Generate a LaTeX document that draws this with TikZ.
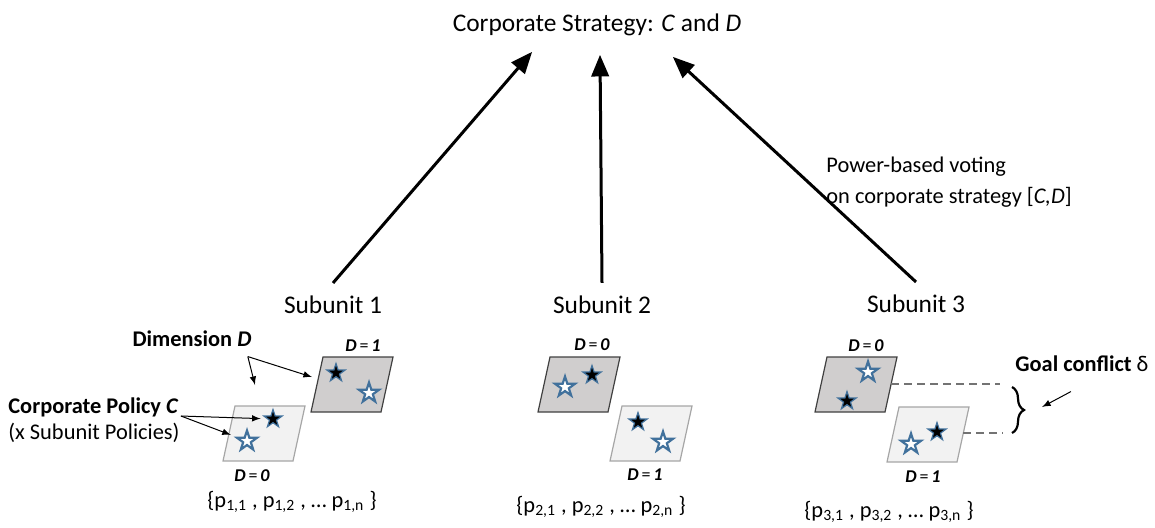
\documentclass[tikz,border=0pt]{standalone}
\usepackage{fontspec}
\setmainfont{Carlito}
\usetikzlibrary{arrows,shapes.geometric,decorations.pathreplacing}
\definecolor{starblue}{RGB}{65,113,156}
\definecolor{darkgrey}{RGB}{208,206,206}
\definecolor{lightgrey}{RGB}{242,242,242}

% slanted plane, bottom left corner at (#1,#2)
\newcommand{\plane}[3]{\draw[#3] (#1,#2) -- ++(70,0) -- ++(12,-55) -- ++(-70,0) -- cycle;}
\newcommand{\Dval}[1]{D\hspace{1.4pt}{\mdseries\upshape =}\hspace{1.4pt}#1}

\begin{document}
\begin{tikzpicture}[x=0.5pt,y=-0.5pt,
  every node/.style={inner sep=0pt,font=\fontsize{11.2}{13.5}\selectfont},
  big node/.style={font=\fontsize{12.7}{15}\selectfont},
  bold node/.style={font=\fontsize{11.2}{13.5}\selectfont\bfseries},
  val node/.style={font=\fontsize{9}{10.8}\selectfont\bfseries\itshape},
  full star/.style={star,star points=5,star point ratio=2.6,minimum size=9.5pt,fill=black,draw=starblue,line width=0.6pt},
  open star/.style={full star,minimum size=10.5pt,fill=white,line width=1.1pt},
  dark plane/.style={fill=darkgrey,draw=black!75,line width=0.6pt},
  light plane/.style={fill=lightgrey,draw=black!35,line width=0.6pt},
  big arrow/.style={-triangle 45,line width=1.5pt},
  thin arrow/.style={-latex,line width=0.5pt},
  gap line/.style={draw=black!55,line width=0.7pt,dash pattern=on 4pt off 2.5pt}]
  \useasboundingbox (0,0) rectangle (1155,527);

  % strategy and subunits
  \node[big node,anchor=base] (cs) at (597,31) {Corporate Strategy: \textit{C} and \textit{D}};
  \node[big node,anchor=base] (s1) at (333,313) {Subunit 1};
  \node[big node,anchor=base] (s2) at (602,313) {Subunit 2};
  \node[big node,anchor=base] (s3) at (916,312) {Subunit 3};
  \coordinate (t1) at (532,52);
  \coordinate (t2) at (600,55);
  \coordinate (t3) at (673,57);
  \draw[big arrow] ([yshift=6pt]s1.north) -- (t1);
  \draw[big arrow] ([yshift=6pt]s2.north) -- (t2);
  \draw[big arrow] ([yshift=6pt]s3.north) -- (t3);
  \node[anchor=base west] (v1) at (826,172) {Power-based voting};
  \node[anchor=base west] (v2) at (826,203) {on corporate strategy [\textit{C,D}]};

  % subunit 1
  \plane{311}{412}{dark plane}
  \plane{223}{461}{light plane}
  \node[full star] (f11) at (336,373) {};
  \node[open star] (o11) at (369,393) {};
  \node[full star] (f10) at (273,419) {};
  \node[open star] (o10) at (247,441) {};
  \node[val node,anchor=base] (d11) at (363,351) {\Dval{1}};
  \node[val node,anchor=base] (d10) at (252,481) {\Dval{0}};
  \node[anchor=base] (p1) at (292,507) {\{p\textsubscript{1,1} , p\textsubscript{1,2} , … p\textsubscript{1,n} \}};

  \node[bold node,anchor=base] (dim) at (192,346) {Dimension \textit{D}};
  \coordinate (da) at (255,385);
  \coordinate (db) at (312,377);
  \draw[thin arrow] ([xshift=-2pt,yshift=-5pt]dim.south east) -- (da);
  \draw[thin arrow] ([xshift=-2pt,yshift=-5pt]dim.south east) -- (db);
  \node[bold node,anchor=base west] (pol) at (8,413) {Corporate Policy \textit{C}};
  \node[anchor=base west] (polx) at (8,439) {(x Subunit Policies)};
  \draw[thin arrow,shorten >=3pt] ([xshift=1pt,yshift=-1.5pt]pol.base east) -- (f10);
  \draw[thin arrow,shorten >=2.5pt] ([xshift=1pt,yshift=-1.5pt]pol.base east) -- (o10);

  % subunit 2
  \plane{538}{412}{dark plane}
  \plane{610}{461}{light plane}
  \node[full star] (f20) at (592,375) {};
  \node[open star] (o20) at (565,387) {};
  \node[full star] (f21) at (638,422) {};
  \node[open star] (o21) at (663,442) {};
  \node[val node,anchor=base] (d20) at (592,350) {\Dval{0}};
  \node[val node,anchor=base] (d21) at (645,480) {\Dval{1}};
  \node[anchor=base] (p2) at (601,512) {\{p\textsubscript{2,1} , p\textsubscript{2,2} , … p\textsubscript{2,n} \}};

  % subunit 3
  \plane{815}{412}{dark plane}
  \plane{887}{462}{light plane}
  \node[open star] (o30) at (868,372) {};
  \node[full star] (f30) at (847,401) {};
  \node[full star] (f31) at (937,432) {};
  \node[open star] (o31) at (911,444) {};
  \node[val node,anchor=base] (d30) at (866,351) {\Dval{0}};
  \node[val node,anchor=base] (d31) at (923,482) {\Dval{1}};
  \node[anchor=base] (p3) at (889,517) {\{p\textsubscript{3,1} , p\textsubscript{3,2} , … p\textsubscript{3,n} \}};

  % goal conflict between the two planes
  \coordinate (g1) at (891,384);
  \coordinate (g2) at (1000,384);
  \coordinate (g3) at (963,433);
  \coordinate (g4) at (1003,433);
  \draw[gap line] (g1) -- (g2);
  \draw[gap line] (g3) -- (g4);
  \coordinate (b1) at (1012,387);
  \coordinate (b2) at (1012,433);
  \draw[decorate,decoration={brace,amplitude=6pt},line width=1.1pt] (b1) -- (b2);
  \node[bold node,anchor=base west] (gc) at (1015,371) {Goal conflict {\mdseries δ}};
  \coordinate (ge) at (1042,407);
  \draw[thin arrow] ([xshift=-5.5pt,yshift=-10pt]gc.south) -- (ge);
\end{tikzpicture}
\end{document}
